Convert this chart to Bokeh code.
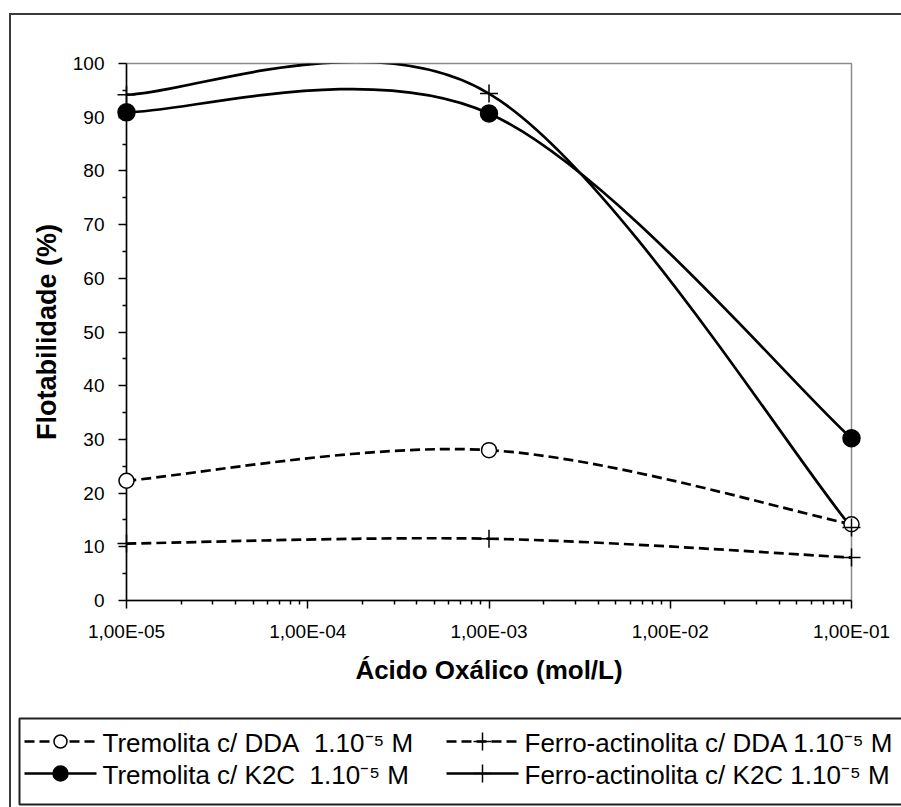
import numpy as np
from bokeh.plotting import figure
from bokeh.layouts import column
from bokeh.models import Range1d, FixedTicker, ColumnDataSource
from bokeh.core.properties import value
from bokeh.embed import file_html
from bokeh.resources import INLINE

# ---------------- data ----------------
x_conc = [1e-5, 1e-3, 1e-1]
trem_dda = [22.3, 28.0, 14.2]
ferro_dda = [10.6, 11.5, 8.0]
trem_k2c = [90.9, 90.7, 30.2]
ferro_k2c = [94.2, 94.4, 13.6]

series_labels = [
    "Tremolita c/ DDA\u00a0 1.10\u207b\u2075 M",
    "Ferro-actinolita c/ DDA 1.10\u207b\u2075 M",
    "Tremolita c/ K2C\u00a0 1.10\u207b\u2075 M",
    "Ferro-actinolita c/ K2C 1.10\u207b\u2075 M",
]

x_ticks = [1e-5, 1e-4, 1e-3, 1e-2, 1e-1]
x_tick_labels = ["1,00E-05", "1,00E-04", "1,00E-03", "1,00E-02", "1,00E-01"]
x_minor = [m * d for d in [1e-5, 1e-4, 1e-3, 1e-2] for m in range(2, 10)]
y_ticks = [0, 10, 20, 30, 40, 50, 60, 70, 80, 90, 100]
y_minor = [5, 15, 25, 35, 45, 55, 65, 75, 85, 95]

x_title = "Ácido Oxálico (mol/L)"
y_title = "Flotabilidade (%)"

FONT = "Liberation Sans"
LW = 2.5
DASH = "10 5"

# series styles: (values, dashed?, marker, marker size, marker fill)
specs = [
    (trem_dda, True, "circle", 15, "white"),
    (ferro_dda, True, "cross", 18, None),
    (trem_k2c, False, "circle", 17, "black"),
    (ferro_k2c, False, "cross", 18, None),
]


def smooth(xs, ys):
    """Excel-like smoothed line: cubic Bezier control points (Catmull-Rom, /6)
    computed in log10(x) space, i.e. in screen proportions."""
    lx = np.log10(np.asarray(xs, dtype=float))
    y = np.asarray(ys, dtype=float)
    n = len(lx)
    d = dict(x0=[], y0=[], x1=[], y1=[], cx0=[], cy0=[], cx1=[], cy1=[])
    for i in range(n - 1):
        ip = max(i - 1, 0)
        inn = min(i + 2, n - 1)
        c0x = lx[i] + (lx[i + 1] - lx[ip]) / 6.0
        c0y = y[i] + (y[i + 1] - y[ip]) / 6.0
        c1x = lx[i + 1] - (lx[inn] - lx[i]) / 6.0
        c1y = y[i + 1] - (y[inn] - y[i]) / 6.0
        d["x0"].append(10 ** lx[i]); d["y0"].append(y[i])
        d["x1"].append(10 ** lx[i + 1]); d["y1"].append(y[i + 1])
        d["cx0"].append(10 ** c0x); d["cy0"].append(c0y)
        d["cx1"].append(10 ** c1x); d["cy1"].append(c1y)
    return ColumnDataSource(d)


# ---------------- main chart ----------------
W = 890
BL, BR = 115, 50
p = figure(width=W, height=685, x_axis_type="log",
           x_range=Range1d(1e-5, 1e-1), y_range=Range1d(0, 100),
           output_backend="svg", toolbar_location=None,
           min_border_left=BL, min_border_right=BR,
           min_border_top=48, min_border_bottom=100)

p.grid.visible = False
p.outline_line_color = "#8c8c8c"
p.outline_line_width = 1.5
p.background_fill_color = "white"
p.border_fill_color = "white"

for ax in (p.xaxis[0], p.yaxis[0]):
    ax.axis_line_color = "black"
    ax.axis_line_width = 1.5
    ax.major_tick_line_color = "black"
    ax.major_tick_line_width = 1.5
    ax.minor_tick_line_color = "black"
    ax.minor_tick_line_width = 1.5
    ax.major_tick_in = 0
    ax.minor_tick_in = 0
    ax.major_tick_out = 8
    ax.minor_tick_out = 4
    ax.major_label_text_font = FONT
    ax.major_label_text_font_size = "19px"
    ax.major_label_text_color = "black"
    ax.axis_label_text_font = FONT
    ax.axis_label_text_font_style = "bold"
    ax.axis_label_text_color = "black"

p.xaxis.ticker = FixedTicker(ticks=x_ticks, minor_ticks=x_minor)
p.xaxis.major_label_overrides = dict(zip(x_ticks, x_tick_labels))
p.xaxis.axis_label = x_title
p.xaxis.axis_label_text_font_size = "26px"
p.xaxis.major_label_standoff = 12
p.xaxis.axis_label_standoff = 10

p.yaxis.ticker = FixedTicker(ticks=y_ticks, minor_ticks=y_minor)
p.yaxis.axis_label = y_title
p.yaxis.axis_label_text_font_size = "27px"
p.yaxis.major_label_standoff = 14
p.yaxis.axis_label_standoff = 8

for ys, dashed, mk, ms, mfill in specs:
    extra = dict(line_dash=DASH) if dashed else {}
    p.bezier(x0="x0", y0="y0", x1="x1", y1="y1", cx0="cx0", cy0="cy0",
             cx1="cx1", cy1="cy1", source=smooth(x_conc, ys),
             line_color="black", line_width=2.7, **extra)
    p.scatter(x=x_conc, y=ys, marker=mk, size=ms, fill_color=mfill,
              line_color="black", line_width=1.5, level="overlay")

# ---------------- legend strip (pixel coordinates = canvas pixels) ----------
LH = 107
lg = figure(width=W, height=LH, x_range=Range1d(BL, W - BR),
            y_range=Range1d(LH, 0),
            output_backend="svg", toolbar_location=None,
            x_axis_type=None, y_axis_type=None,
            min_border_left=BL, min_border_right=BR,
            min_border_top=0, min_border_bottom=0)
lg.grid.visible = False
lg.outline_line_color = None
lg.background_fill_color = "white"
lg.border_fill_color = "white"

BOX_L, BOX_T, BOX_R, BOX_B = 8, 18, W + 10, 104
ROW_Y = [41, 73]
COL_X = [13, 435]
GLYPH_W = 72
TEXT_GAP = 6

lg.quad(left=[BOX_L], right=[BOX_R], top=[BOX_T], bottom=[BOX_B],
        fill_color="white", line_color="#202020", line_width=2,
        level="overlay")

for i, ((ys, dashed, mk, ms, mfill), lab) in enumerate(zip(specs, series_labels)):
    r, c = divmod(i, 2)
    x0 = COL_X[c]
    yy = ROW_Y[r]
    xm = x0 + GLYPH_W / 2
    extra = dict(line_dash=DASH) if dashed else {}
    lg.segment(x0=[x0], y0=[yy], x1=[x0 + GLYPH_W], y1=[yy],
               line_color="black", line_width=LW, level="overlay", **extra)
    if mk == "circle":
        d = ms - 2
        lg.ellipse(x=[xm], y=[yy], width=d, height=d, fill_color=mfill,
                   line_color="black", line_width=1.5, level="overlay")
    else:
        h = ms / 2
        lg.segment(x0=[xm - h, xm], y0=[yy, yy - h], x1=[xm + h, xm],
                   y1=[yy, yy + h], line_color="black", line_width=1.5,
                   level="overlay")
    lg.text(x=[x0 + GLYPH_W + TEXT_GAP], y=[yy + 1], text=[lab],
            text_font=value(FONT), text_font_size="26px",
            text_baseline="middle", text_align="left", text_color="black",
            level="overlay")

layout = column(p, lg, spacing=0,
                styles={"margin-left": "9px", "margin-top": "13px",
                        "border-left": "2px solid #3a3a3a",
                        "border-top": "2px solid #3a3a3a"})

open("out.html", "w").write(file_html(layout, INLINE))
